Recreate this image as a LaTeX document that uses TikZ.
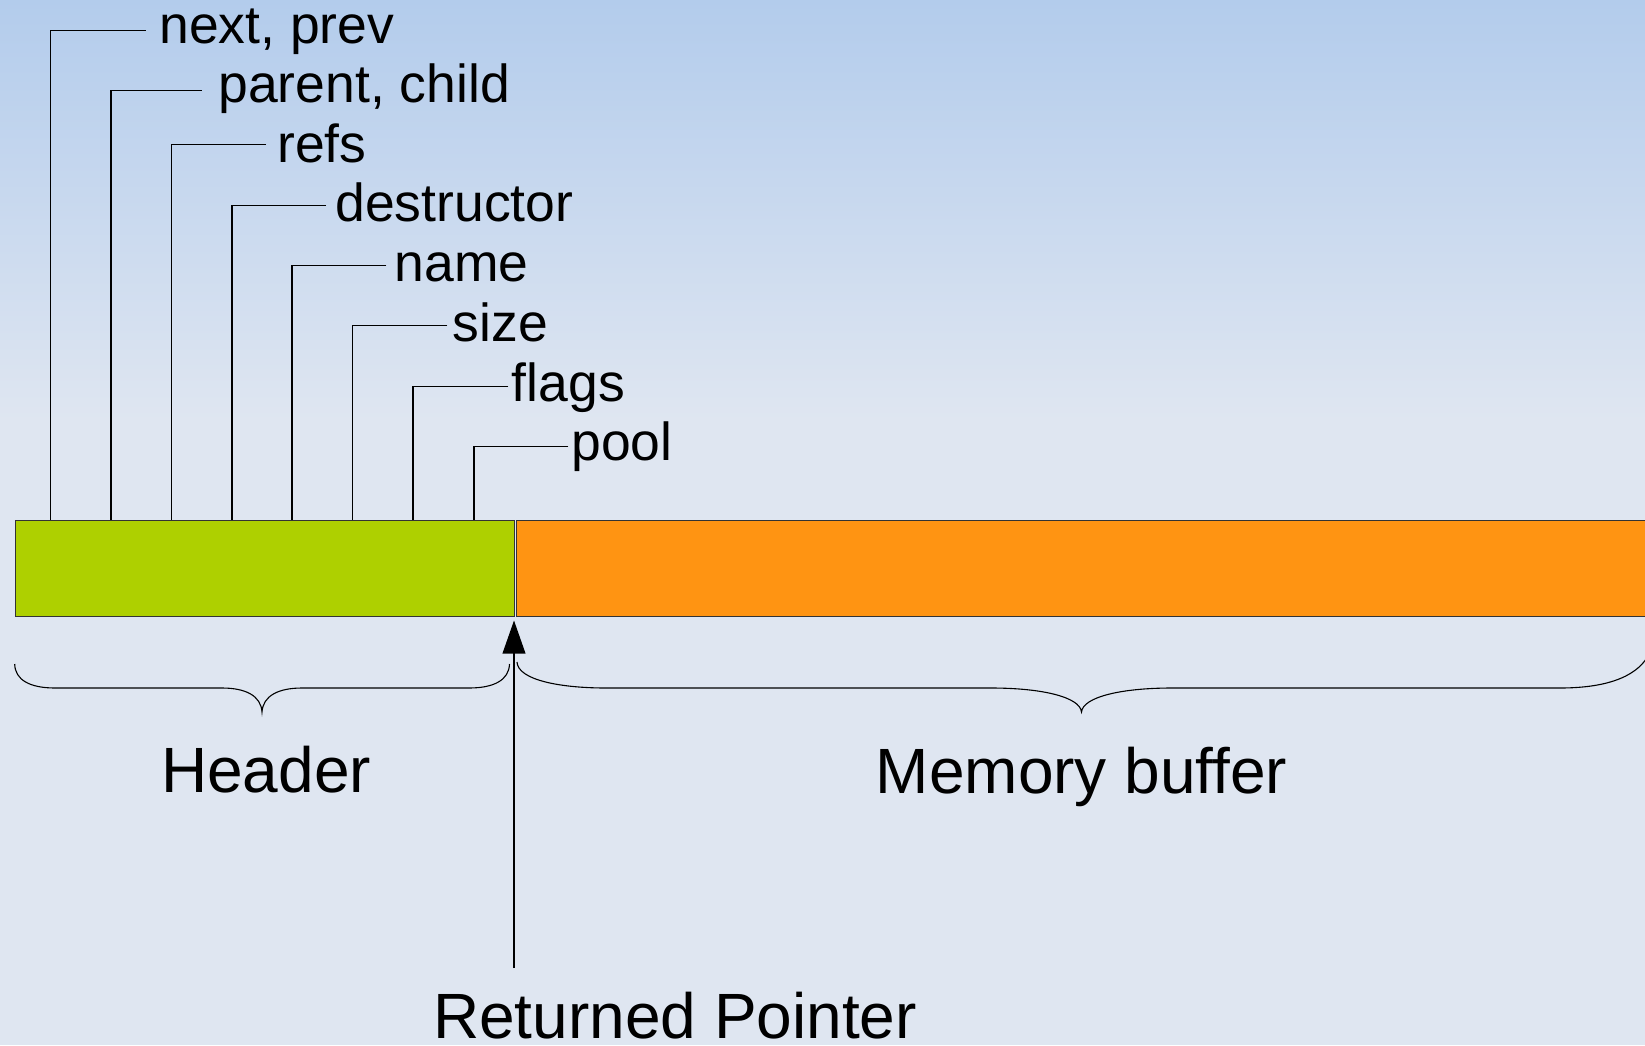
\documentclass[tikz,border=0pt]{standalone}
\usepackage{fontspec}
\setmainfont{Liberation Sans}
\usetikzlibrary{arrows.meta}
\definecolor{bgtop}{HTML}{B3CCEC}
\definecolor{bgbot}{HTML}{DFE6F1}
\definecolor{hdrgreen}{HTML}{AED000}
\definecolor{buforange}{HTML}{FF9412}
\definecolor{edge}{HTML}{333333}
\tikzset{
  fieldlabel/.style={anchor=base west, inner sep=0pt, font=\fontsize{26.75pt}{30pt}\selectfont},
  biglabel/.style={anchor=base, inner sep=0pt, font=\fontsize{32pt}{36pt}\selectfont},
  leader/.style={draw=black, line width=0.6pt},
  blockbox/.style={draw=edge, line width=0.55pt, anchor=north west, inner sep=0pt, minimum height=48pt},
  bracepath/.style={draw=black, line width=0.55pt},
  ptrarrow/.style={draw=black, line width=0.6pt, -{Triangle[length=16.5pt,width=11.4pt]}, shorten >=1.7pt}
}
\begin{document}
\begin{tikzpicture}[x=0.5pt,y=-0.5pt]
\useasboundingbox (0,0) rectangle (1645,1045);
% background
\fill[bgbot] (0,420) rectangle (1645,1045);
\shade[top color=bgtop, bottom color=bgbot] (0,0) rectangle (1645,421);

% blocks
\node[blockbox, fill=hdrgreen, minimum width=249.8pt] (hdr) at (14.7,520) {};
\node[blockbox, fill=buforange, minimum width=570pt] (buf) at (516.3,520) {};

% field labels and leader lines
\foreach \i/\vx/\hy/\ex/\tx/\bl/\txt in {
  1/50.5/30.5/145.5/159/43.3/{next, prev},
  2/111/90.8/201.6/218/102.7/{parent, child},
  3/171.5/144.8/266/277/162.3/{refs},
  4/232/205.5/326.2/335/221.7/{destructor},
  5/292/265.5/386.4/394.5/281.7/{name},
  6/352.5/325.6/447.4/452.5/341.5/{size},
  7/413/386.5/508.4/511.5/401/{flags},
  8/474/446.8/568.4/571/460/{pool}}{
  \node[fieldlabel] (f\i) at (\tx,\bl) {\txt};
  \coordinate (e\i) at (\ex,\hy);
  \coordinate (b\i) at (\vx,520);
  \draw[leader] (e\i) -| (b\i);
}

% braces
\draw[bracepath] (14.7,664) .. controls (15,680) and (30,688) .. (55,688)
  -- (222,688) .. controls (246,688) and (261,696) .. (262,712)
  .. controls (263,696) and (278,688) .. (302,688)
  -- (469,688) .. controls (494,688) and (509,680) .. (509.5,664);
\draw[bracepath] (517,662) .. controls (518,680) and (560,688) .. (606,688)
  -- (991,688) .. controls (1042,688) and (1080,697) .. (1081.5,712)
  .. controls (1083,697) and (1121,688) .. (1172,688)
  -- (1560,688) .. controls (1610,688) and (1640,675) .. (1650,652);

% brace labels
\node[biglabel] (hlabel) at (266,792) {Header};
\node[biglabel] (mlabel) at (1081.5,793.3) {Memory buffer};

% returned pointer
\coordinate (ptrtail) at (514,968);
\draw[ptrarrow] (ptrtail) -- (ptrtail |- hdr.south);
\node[biglabel] (plabel) at (675,1038.5) {Returned Pointer};
\end{tikzpicture}
\end{document}
